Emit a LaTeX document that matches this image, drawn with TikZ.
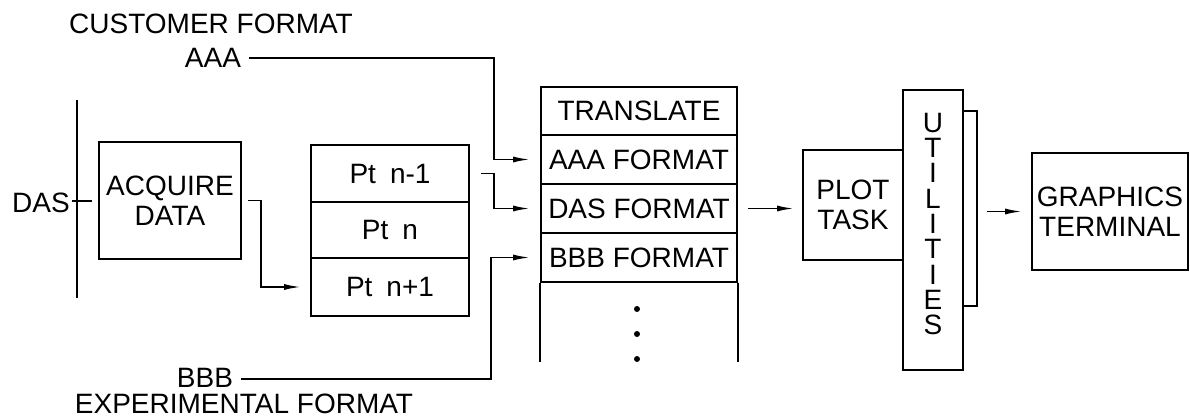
\documentclass[tikz,border=0pt]{standalone}
\usepackage{fontspec}
\setmainfont{Liberation Sans}
\usetikzlibrary{arrows.meta}
\tikzset{
  lw/.style={line width=1.8pt},
  box/.style={draw, lw, inner sep=0pt, align=center, font=\fontsize{28}{30}\selectfont},
  lbl/.style={inner sep=0pt, font=\fontsize{28}{30}\selectfont},
  arr/.style={lw, -{Latex[length=17pt,width=6pt]}},
  conn/.style={lw},
}
\begin{document}
\begin{tikzpicture}[x=1pt,y=-1pt]
\useasboundingbox (0,0) rectangle (1190,419);
% labels
\node[lbl] (cust) at (211,24) {CUSTOMER FORMAT};
\node[lbl] (aaa) at (213,58) {AAA};
\node[lbl] (bbb) at (205,378) {BBB};
\node[lbl] (expf) at (244,404) {EXPERIMENTAL FORMAT};
\node[lbl, anchor=east] (das) at (70,203) {DAS};
% DAS bus
\coordinate (dasTop) at (77,100);
\coordinate (dasBot) at (77,298);
\draw[conn] (dasTop) -- (dasBot);
\coordinate (tickL) at (72,201);
\coordinate (tickR) at (92,201);
\draw[conn] (tickL) -- (tickR);
% acquire
\node[box, minimum width=142pt, minimum height=117pt] (acq) at (170,200.5) {ACQUIRE\\DATA};
% Pt stack
\node[box, minimum width=158pt, minimum height=57pt] (pt1) at (390,173.5) {Pt\hspace{0.5em}n-1};
\node[box, minimum width=158pt, minimum height=56pt] (pt2) at (390,230) {Pt\hspace{0.5em}n};
\node[box, minimum width=158pt, minimum height=58pt] (pt3) at (390,287) {Pt\hspace{0.5em}n+1};
% translate stack
\node[box, minimum width=196pt, minimum height=48pt] (tr0) at (639,111) {TRANSLATE};
\node[box, minimum width=196pt, minimum height=49pt] (tr1) at (639,159.5) {AAA FORMAT};
\node[box, minimum width=196pt, minimum height=49pt] (tr2) at (639,208.5) {DAS FORMAT};
\node[box, minimum width=196pt, minimum height=49pt] (tr3) at (639,257.5) {BBB FORMAT};
\draw[conn] (tr3.south west) -- ++(0,79);
\draw[conn] (tr3.south east) -- ++(0,79);
\fill (637,309) circle (3pt);
\fill (637,334) circle (3pt);
\fill (637,359) circle (3pt);
% plot task
\node[box, minimum width=100pt, minimum height=110pt] (plot) at (853,205) {PLOT\\TASK};
% utilities
\draw[conn] (963,111) -- (977,111) -- (977,306) -- (963,306);
\node[box, minimum width=60pt, minimum height=280pt, fill=white] (util) at (933,230) {};
\node[lbl, align=center, font=\fontsize{28}{25.3}\selectfont] (utiltext) at (933,224) {U\\T\\I\\L\\I\\T\\I\\E\\S};
\coordinate (shadowR) at (977,211.5);
% graphics terminal
\node[box, minimum width=156pt, minimum height=117pt] (gfx) at (1110,211.5) {GRAPHICS\\TERMINAL};
% connectors
\coordinate (aaaTurn) at (494,58);
\draw[arr] ([xshift=8pt]aaa.east) -- (aaaTurn) |- ([xshift=-10pt]tr1.west);
\draw[arr] ([xshift=11pt]pt1.east) -- ++(13,0) |- ([xshift=-10pt]tr2.west);
\coordinate (bbbTurn) at (491,379);
\draw[arr] ([xshift=8pt]bbb.east |- bbbTurn) -- (bbbTurn) |- ([xshift=-10pt]tr3.west);
\draw[arr] ([xshift=6pt]acq.east) -- ++(13,0) |- ([xshift=-9pt]pt3.west);
\draw[arr] ([xshift=10pt]tr2.east) -- ([xshift=-8pt]plot.west |- tr2.east);
\draw[arr] ([xshift=10pt]shadowR) -- ([xshift=-9pt]gfx.west);
\end{tikzpicture}
\end{document}
